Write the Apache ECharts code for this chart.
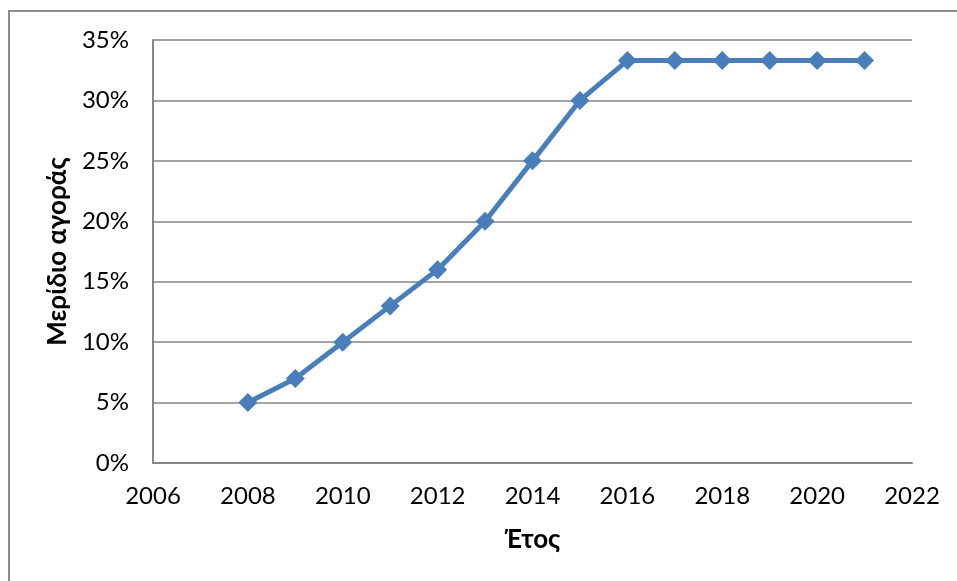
<!DOCTYPE html>
<html lang="el">
<head>
    <meta charset="UTF-8">
    <title>Μερίδιο αγοράς</title>
    <script src="https://cdn.jsdelivr.net/npm/echarts@6/dist/echarts.min.js"></script>
    <style>
        html, body { margin: 0; padding: 0; background: #fff; }
        #wrap { position: relative; width: 957px; height: 581px; overflow: hidden; }
        #frame { position: absolute; left: 8px; top: 10px; width: 1000px; height: 600px;
                 border-left: 2px solid #8c8c8c; border-top: 2px solid #8c8c8c; }
        #chart { position: absolute; left: 0; top: 0; width: 957px; height: 581px; }
    </style>
</head>
<body>
<div id="wrap">
    <div id="frame"></div>
    <div id="chart"></div>
</div>
<script>
    var years = [2008, 2009, 2010, 2011, 2012, 2013, 2014, 2015, 2016, 2017, 2018, 2019, 2020, 2021];
    var share = [5, 7, 10, 13, 16, 20, 25, 30, 33.3, 33.3, 33.3, 33.3, 33.3, 33.3];

    var myChart = echarts.init(document.getElementById('chart'));
    var font = 'Lato, "Open Sans", sans-serif';

    option = {
        animation: false,
        grid: { left: 153, right: 45, top: 40, bottom: 118 },
        xAxis: {
            type: 'value',
            min: 2006,
            max: 2022,
            interval: 2,
            name: 'Έτος',
            nameLocation: 'middle',
            nameGap: 64,
            nameTextStyle: { fontFamily: font, fontSize: 26, fontWeight: 'bold', color: '#000' },
            axisLine: { show: true, lineStyle: { color: '#868686', width: 2 } },
            axisTick: { show: false },
            splitLine: { show: false },
            axisLabel: { fontFamily: font, fontSize: 24, color: '#000', margin: 21,
                formatter: function (v) { return String(v); } }
        },
        yAxis: {
            type: 'value',
            min: 0,
            max: 35,
            interval: 5,
            name: 'Μερίδιο αγοράς',
            nameLocation: 'middle',
            nameGap: 80,
            nameTextStyle: { fontFamily: font, fontSize: 26, fontWeight: 'bold', color: '#000' },
            axisLine: { show: true, lineStyle: { color: '#868686', width: 2 } },
            axisTick: { show: false },
            splitLine: { show: true, lineStyle: { color: '#868686', width: 1.5 } },
            axisLabel: { fontFamily: font, fontSize: 24, color: '#000', margin: 24,
                formatter: function (v) { return v + '%'; } }
        },
        series: [{
            type: 'line',
            data: years.map(function (y, i) { return [y, share[i]]; }),
            symbol: 'diamond',
            symbolSize: 19,
            itemStyle: { color: '#4a7ebb' },
            lineStyle: { color: '#4a7ebb', width: 5 }
        }]
    };

    myChart.setOption(option);
</script>
</body>
</html>
